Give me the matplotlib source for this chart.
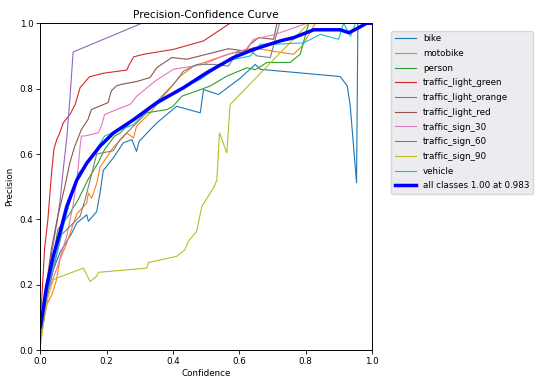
import matplotlib
matplotlib.use("Agg")
import matplotlib.pyplot as plt

names = ["bike", "motobike", "person", "traffic_light_green", "traffic_light_orange",
         "traffic_light_red", "traffic_sign_30", "traffic_sign_60", "traffic_sign_90", "vehicle"]

# confidence / precision points per class
bike_c = [0, 0.02, 0.039, 0.06, 0.095, 0.11, 0.14, 0.145, 0.17, 0.18, 0.19, 0.22, 0.25, 0.276, 0.29,
          0.298, 0.351, 0.411, 0.482, 0.492, 0.537, 0.6, 0.648, 0.663, 0.904, 0.925, 0.934, 0.953, 0.957, 1.0]
bike_p = [0.03, 0.16, 0.246, 0.3, 0.358, 0.389, 0.414, 0.394, 0.424, 0.48, 0.55, 0.588, 0.634, 0.644, 0.608,
          0.639, 0.695, 0.746, 0.726, 0.797, 0.782, 0.83, 0.874, 0.859, 0.837, 0.808, 0.747, 0.512, 1.0, 1.0]

moto_c = [0, 0.02, 0.035, 0.049, 0.059, 0.08, 0.09, 0.11, 0.14, 0.145, 0.155, 0.17, 0.18, 0.22, 0.261,
          0.281, 0.29, 0.331, 0.371, 0.422, 0.462, 0.522, 0.582, 0.643, 0.698, 0.763, 0.789, 0.829, 1.0]
moto_p = [0.03, 0.14, 0.17, 0.215, 0.276, 0.328, 0.358, 0.417, 0.45, 0.48, 0.465, 0.51, 0.56, 0.62, 0.664,
          0.649, 0.685, 0.726, 0.777, 0.838, 0.869, 0.89, 0.91, 0.925, 0.915, 0.905, 0.93, 1.0, 1.0]

person_c = [0, 0.02, 0.053, 0.084, 0.114, 0.144, 0.174, 0.194, 0.224, 0.24, 0.281, 0.321, 0.382, 0.4,
            0.427, 0.472, 0.512, 0.562, 0.623, 0.648, 0.683, 0.753, 0.783, 0.809, 1.0]
person_p = [0.03, 0.17, 0.369, 0.41, 0.46, 0.522, 0.573, 0.614, 0.655, 0.664, 0.705, 0.726, 0.736, 0.746,
            0.777, 0.793, 0.808, 0.838, 0.864, 0.858, 0.88, 0.88, 0.905, 1.0, 1.0]

green_c = [0, 0.005, 0.013, 0.023, 0.033, 0.041, 0.05, 0.057, 0.069, 0.0895, 0.105, 0.12, 0.148, 0.19,
           0.261, 0.266, 0.281, 0.311, 0.401, 0.492, 0.572, 1.0]
green_p = [0.10, 0.165, 0.31, 0.40, 0.53, 0.615, 0.645, 0.66, 0.695, 0.721, 0.751, 0.803, 0.836, 0.847,
           0.857, 0.869, 0.897, 0.905, 0.92, 0.946, 1.0, 1.0]

orange_c = [0, 0.01, 0.02, 0.03, 0.04, 0.05, 0.06, 0.07, 0.08, 0.09, 0.099, 0.306, 1.0]
orange_p = [0.03, 0.12, 0.2, 0.27, 0.33, 0.39, 0.46, 0.56, 0.65, 0.78, 0.912, 1.0, 1.0]

red_c = [0, 0.01, 0.02, 0.033, 0.053, 0.074, 0.089, 0.104, 0.124, 0.144, 0.154, 0.204, 0.214, 0.229,
         0.244, 0.271, 0.295, 0.331, 0.351, 0.396, 0.442, 0.567, 0.618, 0.633, 0.658, 0.703, 0.713, 1.0]
red_p = [0.05, 0.13, 0.21, 0.307, 0.41, 0.50, 0.573, 0.624, 0.675, 0.706, 0.736, 0.757, 0.793, 0.808,
         0.813, 0.818, 0.823, 0.834, 0.864, 0.895, 0.89, 0.922, 0.915, 0.936, 0.956, 0.951, 1.0, 1.0]

s30_c = [0, 0.02, 0.05, 0.08, 0.1, 0.114, 0.119, 0.124, 0.134, 0.175, 0.184, 0.194, 0.24, 0.271, 0.291,
         0.346, 0.401, 0.431, 0.492, 0.55, 0.62, 0.643, 0.708, 0.804, 1.0]
s30_p = [0.05, 0.17, 0.25, 0.35, 0.45, 0.553, 0.614, 0.655, 0.655, 0.665, 0.685, 0.721, 0.74, 0.752, 0.777,
         0.823, 0.859, 0.864, 0.874, 0.90, 0.92, 0.951, 0.966, 1.0, 1.0]

s60_c = [0, 0.02, 0.04, 0.064, 0.09, 0.12, 0.135, 0.15, 0.17, 0.22, 0.24, 0.311, 0.36, 0.401, 0.432,
         0.472, 0.522, 0.567, 0.593, 0.633, 0.653, 0.693, 0.708, 0.721, 1.0]
s60_p = [0.04, 0.17, 0.25, 0.353, 0.379, 0.41, 0.46, 0.52, 0.60, 0.61, 0.644, 0.716, 0.77, 0.813, 0.854,
         0.874, 0.874, 0.869, 0.91, 0.915, 0.90, 0.895, 0.951, 1.0, 1.0]

s90_c = [0, 0.014, 0.024, 0.039, 0.049, 0.13, 0.15, 0.17, 0.175, 0.321, 0.326, 0.411, 0.436, 0.446,
         0.471, 0.487, 0.522, 0.532, 0.540, 0.562, 0.572, 0.809, 1.0]
s90_p = [0.011, 0.113, 0.164, 0.215, 0.22, 0.251, 0.21, 0.226, 0.238, 0.251, 0.268, 0.287, 0.307, 0.333,
         0.363, 0.44, 0.496, 0.52, 0.665, 0.603, 0.751, 1.0, 1.0]

veh_c = [0, 0.02, 0.05, 0.08, 0.114, 0.144, 0.194, 0.23, 0.281, 0.32, 0.371, 0.42, 0.482, 0.563, 0.633,
         0.663, 0.713, 0.794, 0.844, 0.899, 0.914, 0.935, 0.95, 1.0]
veh_p = [0.04, 0.18, 0.3, 0.42, 0.54, 0.573, 0.655, 0.67, 0.69, 0.73, 0.765, 0.8, 0.828, 0.885, 0.9,
         0.936, 0.936, 0.94, 0.966, 0.951, 1.0, 0.96, 1.0, 1.0]

all_c = [0, 0.004, 0.019, 0.039, 0.059, 0.08, 0.11, 0.14, 0.18, 0.22, 0.281, 0.351, 0.432, 0.502, 0.582,
         0.643, 0.723, 0.764, 0.824, 0.904, 0.93, 0.955, 0.983, 1.0]
all_p = [0.07, 0.093, 0.195, 0.287, 0.358, 0.44, 0.52, 0.572, 0.624, 0.664, 0.705, 0.757, 0.803, 0.849,
         0.895, 0.92, 0.946, 0.956, 0.98, 0.98, 0.971, 0.984, 1.0, 1.0]
best_p, best_c = 1.00, 0.983

curves = [(bike_c, bike_p), (moto_c, moto_p), (person_c, person_p), (green_c, green_p),
          (orange_c, orange_p), (red_c, red_p), (s30_c, s30_p), (s60_c, s60_p),
          (s90_c, s90_p), (veh_c, veh_p)]

plt.rcParams["font.size"] = 6.3
fig = plt.figure(figsize=(5.37, 3.81), dpi=100)
ax = fig.add_axes([0.075, 0.081, 0.618, 0.858])

for name, (c, p) in zip(names, curves):
    ax.plot(c, p, linewidth=0.8, label=name)
ax.plot(all_c, all_p, linewidth=2.5, color="blue", label=f"all classes {best_p:.2f} at {best_c:.3f}")

ax.set_xlim(0, 1)
ax.set_ylim(0, 1)
ax.set_xlabel("Confidence", labelpad=2)
ax.set_ylabel("Precision")
ax.set_title("Precision-Confidence Curve", pad=4)
for s in ax.spines.values():
    s.set_linewidth(0.7)
ax.tick_params(width=0.6, length=3, pad=2)

leg = ax.legend(bbox_to_anchor=(1.045, 0.99), loc="upper left", fontsize=6.3,
                facecolor="#ebebf0", framealpha=1, edgecolor="#d8d8d8",
                handlelength=2.4, labelspacing=0.65)

fig.savefig("out.png", dpi=100)
